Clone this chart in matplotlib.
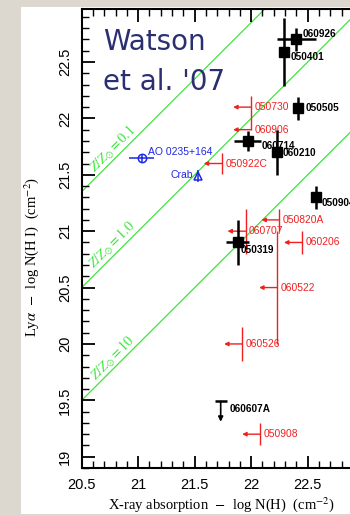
import numpy as np
import matplotlib.pyplot as plt
from matplotlib.patches import Rectangle
from matplotlib.ticker import MultipleLocator, FuncFormatter

plt.rcParams['mathtext.fontset'] = 'stix'

# GRBs with measured N(H) from X-ray and N(HI) from Lya
det_names = ['060926', '050401', '050505', '060714', '060210', '050904', '050319']
det_x = [22.40, 22.29, 22.41, 21.97, 22.23, 22.57, 21.88]
det_y = [22.70, 22.59, 22.09, 21.80, 21.70, 21.30, 20.90]
det_xerr = [0.17, 0.00, 0.04, 0.12, 0.03, 0.04, 0.10]
det_yerr = [0.10, 0.30, 0.10, 0.09, 0.20, 0.10, 0.20]

# X-ray upper limits
lim_names = ['050730', '060906', '050922C', '050820A', '060707',
             '060206', '060522', '060526', '050908']
lim_x = [22.00, 22.00, 21.74, 22.25, 21.95, 22.45, 22.23, 21.92, 22.08]
lim_y = [22.10, 21.90, 21.60, 21.10, 21.00, 20.90, 20.50, 20.00, 19.20]
lim_yerr_lo = [0.10, 0.00, 0.09, 0.10, 0.20, 0.10, 0.50, 0.15, 0.10]
lim_yerr_hi = [0.10, 0.10, 0.09, 0.10, 0.20, 0.10, 0.50, 0.15, 0.10]
lim_arrow = 0.16

# upper limit on N(HI)
hi_lim_name = '060607A'
hi_lim_x = 21.73
hi_lim_y = 19.49
hi_lim_arrow = 0.18

# galactic sightlines
ao_name = 'AO 0235+164'
ao_x, ao_y, ao_xerr = 21.03, 21.65, 0.11
crab_name = 'Crab'
crab_x, crab_y, crab_yerr = 21.53, 21.49, 0.05

# metallicity lines: log N(HI) = log N(H) + offset
z_labels = ['0.1', '1.0', '10']
z_offset = [0.85, 0.0, -1.0]

# label offsets in pixels (dx, dy, dy down positive)
det_off = [(6, -5), (7, 5), (8, 0), (14, 5), (5, 1), (6, 6), (3, 8)]

RED = '#f02020'
BLUE = '#1e28e6'
GREEN = '#3ce63c'
NAVY = '#2b2f72'
px = 0.72  # points per pixel at 100 dpi

fig = plt.figure(figsize=(3.5, 5.16), dpi=100, facecolor='#ddd8cf')
panel = Rectangle((21 / 350, 2 / 516), 1, 1 - 9 / 516,
                  transform=fig.transFigure, facecolor='white',
                  edgecolor='none', zorder=-5)
fig.add_artist(panel)

ax = fig.add_axes([81.7 / 350, 48 / 516, 282.5 / 350, 459 / 516])
ax.set_zorder(2)
ax.set_xlim(20.5, 23.0)
ax.set_ylim(18.9, 22.97)

xx = np.array([20.5, 23.0])
for lab, off in zip(z_labels, z_offset):
    ax.plot(xx, xx + off, color=GREEN, lw=0.9, zorder=1)
    ax.text(20.77, 20.77 + off + 0.11, r'$Z/Z_{\odot} = %s$' % lab,
            color=GREEN, fontsize=10, rotation=45, ha='center', va='center',
            style='italic')

# detections
ax.errorbar(det_x, det_y, xerr=det_xerr, yerr=det_yerr, fmt='s', color='black',
            ms=6.5, elinewidth=1.8, capsize=0, zorder=5)
for n, x, y, (dx, dy) in zip(det_names, det_x, det_y, det_off):
    ax.annotate(n, (x, y), xytext=(dx * px, -dy * px), textcoords='offset points',
                ha='left', va='center', fontsize=7.2, fontweight='bold',
                family='Liberation Sans', color='black', zorder=6)

# red X-ray upper limits
ax.errorbar(lim_x, lim_y, yerr=[lim_yerr_lo, lim_yerr_hi], fmt='none',
            ecolor=RED, elinewidth=1.0, capsize=0, zorder=3)
for n, x, y in zip(lim_names, lim_x, lim_y):
    ax.annotate('', xy=(x - lim_arrow, y), xytext=(x, y),
                arrowprops=dict(arrowstyle='-|>', color=RED, lw=1.0,
                                mutation_scale=6, shrinkA=0, shrinkB=0),
                zorder=3)
    ax.annotate(n, (x, y), xytext=(3.5 * px, 0), textcoords='offset points',
                ha='left', va='center', fontsize=7.4, family='Liberation Sans',
                color=RED, zorder=4)

# black HI upper limit
ax.plot(hi_lim_x, hi_lim_y, marker='_', ms=8.5, mew=1.8, color='black')
ax.annotate('', xy=(hi_lim_x, hi_lim_y - hi_lim_arrow), xytext=(hi_lim_x, hi_lim_y),
            arrowprops=dict(arrowstyle='-|>', color='black', lw=1.2,
                            mutation_scale=7, shrinkA=0, shrinkB=0))
ax.annotate(hi_lim_name, (hi_lim_x, hi_lim_y), xytext=(9 * px, -7.5 * px),
            textcoords='offset points', ha='left', va='center', fontsize=7.2,
            fontweight='bold', family='Liberation Sans', color='black')

# galactic comparison sightlines
ax.errorbar([ao_x], [ao_y], xerr=[ao_xerr], fmt='o', mfc='white', mec=BLUE,
            ecolor=BLUE, ms=6, mew=1.1, elinewidth=1.1, capsize=0, zorder=4)
ax.plot(ao_x, ao_y, marker='+', ms=6, mew=1.1, color=BLUE, zorder=5)
ax.annotate(ao_name, (ao_x, ao_y), xytext=(6 * px, 5.5 * px), textcoords='offset points',
            ha='left', va='center', fontsize=7.5, family='Liberation Sans', color=BLUE)
ax.errorbar([crab_x], [crab_y], yerr=[crab_yerr], fmt='^', mfc='none', mec=BLUE,
            ecolor=BLUE, ms=6, mew=1.1, elinewidth=1.1, capsize=0, zorder=4)
ax.annotate(crab_name, (crab_x, crab_y), xytext=(-5.5 * px, 1 * px),
            textcoords='offset points', ha='right', va='center', fontsize=7.5,
            family='Liberation Sans', color=BLUE)

# axes styling
for s in ax.spines.values():
    s.set_linewidth(1.5)
ax.xaxis.set_major_locator(MultipleLocator(0.5))
ax.xaxis.set_minor_locator(MultipleLocator(0.1))
ax.yaxis.set_major_locator(MultipleLocator(0.5))
ax.yaxis.set_minor_locator(MultipleLocator(0.1))
fmt = FuncFormatter(lambda v, p: '%g' % v)
ax.xaxis.set_major_formatter(fmt)
ax.yaxis.set_major_formatter(fmt)
ax.tick_params(which='both', direction='in', top=True, right=True)
ax.tick_params(which='major', length=9, width=1.3)
ax.tick_params(which='minor', length=5, width=1.0)
ax.tick_params(axis='x', pad=7, labelsize=10.5)
ax.tick_params(axis='y', pad=7, labelsize=10.5, labelrotation=90)
for t in ax.get_xticklabels() + ax.get_yticklabels():
    t.set_family('Liberation Sans')
for t in ax.get_yticklabels():
    t.set_va('center')

fig.text(221.5 / 350, 1 - 505 / 516,
         r'X-ray absorption  $-$  log N(H)  (cm$^{-2}$)',
         ha='center', va='center', fontsize=10.5, family='Liberation Serif')
fig.text(32 / 350, 1 - 257 / 516,
         r'Ly$\alpha$  $-$  log N(H I)  (cm$^{-2}$)', rotation=90,
         ha='center', va='center', fontsize=10.5, family='Liberation Serif')

fig.text(103 / 350, 1 - 50 / 516, 'Watson', fontsize=20, color=NAVY,
         ha='left', va='baseline')
fig.text(103 / 350, 1 - 90 / 516, "et al. '07", fontsize=20, color=NAVY,
         ha='left', va='baseline')

fig.savefig('out.png', dpi=100, facecolor=fig.get_facecolor())
